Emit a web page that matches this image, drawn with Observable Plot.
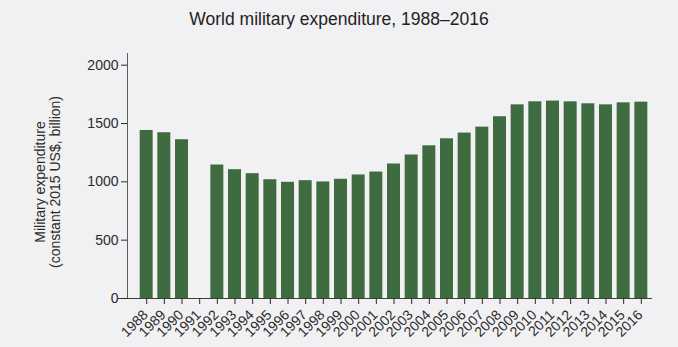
<!DOCTYPE html>
<html>
<head>
<meta charset="utf-8">
<script src="https://cdn.jsdelivr.net/npm/d3@7"></script>
<script src="https://cdn.jsdelivr.net/npm/@observablehq/plot@0.6"></script>
<style>
  html, body { margin: 0; padding: 0; background: #f1f1f3; }
  body { width: 678px; height: 347px; overflow: hidden; font-family: "Liberation Sans", Arial, sans-serif; }
  #title { height: 40px; box-sizing: border-box; padding-top: 11px; text-align: center; font-size: 17.5px; line-height: 1; color: #222; }
  #chart svg { display: block; }
</style>
</head>
<body>
<div id="title">World military expenditure, 1988–2016</div>
<div id="chart"></div>
<script>
const years = ["1988","1989","1990","1991","1992","1993","1994","1995","1996","1997","1998","1999","2000","2001","2002","2003","2004","2005","2006","2007","2008","2009","2010","2011","2012","2013","2014","2015","2016"];
const spending = [1440, 1421, 1361, null, 1144, 1104, 1070, 1018, 996, 1010, 999, 1022, 1059, 1084, 1153, 1230, 1309, 1369, 1418, 1469, 1558, 1660, 1686, 1692, 1686, 1669, 1660, 1677, 1683];
const yTicks = [0, 500, 1000, 1500, 2000];
const yLabel = "Military expenditure\n(constant 2015 US$, billion)";

const data = years.map((year, i) => ({year, value: spending[i]})).filter(d => d.value != null);

const ink = "#2b2b2b";
const chart = Plot.plot({
  width: 678,
  height: 307,
  marginTop: 13,
  marginBottom: 49,
  marginLeft: 135,
  marginRight: 26,
  style: { background: "transparent", fontFamily: "'Liberation Sans', Arial, sans-serif", fontSize: "14px", color: ink },
  x: { domain: years, padding: 0.265, round: false, label: null },
  y: { domain: [0, 2100], label: null },
  marks: [
    Plot.barY(data, { x: "year", y: "value", fill: "#3e6c40" }),
    Plot.axisY({ ticks: yTicks, tickFormat: d => String(d), tickSize: 6, tickPadding: 3, dx: -8, label: null, fontSize: 14, stroke: ink, fill: ink }),
    Plot.frame({ anchor: "left", dx: -8, stroke: ink, strokeOpacity: 0.75 }),
    Plot.ruleY([0], { insetLeft: -17, stroke: ink, strokeOpacity: 0.9 }),
    Plot.axisX({ tickSize: 6, stroke: ink, label: null, text: null }),
    Plot.axisX({ tickSize: 0, tickPadding: 14, tickRotate: -45, dx: -1, label: null, fontSize: 14, fill: ink }),
    Plot.text([yLabel], { frameAnchor: "left", rotate: -90, dx: -88, dy: 6, textAnchor: "middle", lineAnchor: "middle", lineHeight: 1.12, fontSize: 14, fill: ink })
  ]
});
document.getElementById("chart").appendChild(chart);
</script>
</body>
</html>
